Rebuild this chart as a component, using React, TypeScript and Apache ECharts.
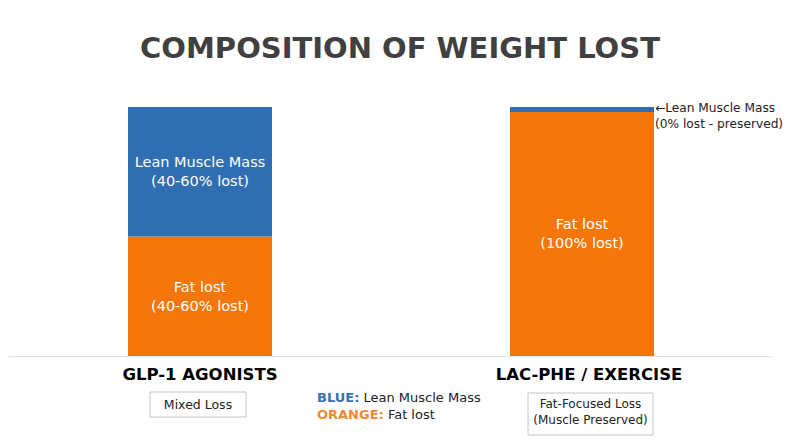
import React, { useEffect, useRef } from "react";
import * as echarts from "echarts";

const categories = ["GLP-1 AGONISTS", "LAC-PHE / EXERCISE"];
const fatLost = [48, 98];
const leanLost = [52, 2];
const fatLabels = ["Fat lost\n(40-60% lost)", "Fat lost\n(100% lost)"];
const leanLabels = ["Lean Muscle Mass\n(40-60% lost)", "←Lean Muscle Mass\n(0% lost - preserved)"];
const subtitles = ["Mixed Loss", "Fat-Focused Loss\n(Muscle Preserved)"];
const legendItems = [
  { key: "BLUE:", text: "Lean Muscle Mass" },
  { key: "ORANGE:", text: "Fat lost" },
];

const FONT = "'DejaVu Sans', sans-serif";
const BLUE = "#306eb2";
const ORANGE = "#f5760a";

export default function App() {
  const ref = useRef<HTMLDivElement>(null);
  useEffect(() => {
    document.body.style.margin = "0";
    const chart = echarts.init(ref.current!, null, { renderer: "svg" });
    chart.setOption({
      animation: false,
      backgroundColor: "#ffffff",
      title: {
        text: "COMPOSITION OF WEIGHT LOST",
        left: "center",
        top: 28,
        textStyle: { fontFamily: FONT, fontSize: 29, fontWeight: "bold", color: "#404040" },
      },
      grid: { left: 9, right: 27, top: 107, bottom: 91 },
      xAxis: {
        type: "category",
        data: categories,
        axisLine: { lineStyle: { color: "#e4e4e4", width: 1 } },
        axisTick: { show: false },
        axisLabel: {
          margin: 10,
          formatter: (v: string, i: number) => (i === 0 ? `{a|${v}}` : `{b|${v}}`),
          rich: {
            a: { fontFamily: FONT, fontSize: 16.5, fontWeight: "bold", color: "#000" },
            b: { fontFamily: FONT, fontSize: 16.5, fontWeight: "bold", color: "#000", padding: [0, 0, 0, 14] },
          },
        },
      },
      yAxis: { type: "value", min: 0, max: 100, show: false, splitLine: { show: false } },
      series: [
        {
          name: "Fat lost",
          type: "bar",
          stack: "total",
          barWidth: 144,
          itemStyle: { color: ORANGE },
          data: fatLost.map((v) => ({ value: v })),
          label: {
            show: true,
            position: "inside",
            formatter: (p: any) => fatLabels[p.dataIndex],
            fontFamily: FONT,
            fontSize: 14.5,
            lineHeight: 19,
            color: "#fff",
          },
        },
        {
          name: "Lean Muscle Mass",
          type: "bar",
          stack: "total",
          barWidth: 144,
          itemStyle: { color: BLUE },
          data: leanLost.map((v, i) =>
            i === 0
              ? {
                  value: v,
                  label: {
                    show: true,
                    position: "inside",
                    fontFamily: FONT,
                    fontSize: 14.5,
                    lineHeight: 19,
                    color: "#fff",
                  },
                }
              : {
                  value: v,
                  label: {
                    show: true,
                    position: "right",
                    distance: 1,
                    offset: [0, 7],
                    fontFamily: FONT,
                    fontSize: 12.2,
                    lineHeight: 16,
                    color: "#222",
                  },
                }
          ),
          label: {
            formatter: (p: any) => leanLabels[p.dataIndex],
          },
        },
      ],
      graphic: [
        {
          type: "rect",
          shape: { x: 150, y: 392, width: 96, height: 25 },
          style: { fill: "#fff", stroke: "#c4c4c4", lineWidth: 1 },
        },
        {
          type: "text",
          x: 198,
          y: 404.5,
          style: {
            text: subtitles[0],
            fontFamily: FONT,
            fontSize: 12.5,
            fill: "#222",
            align: "center",
            verticalAlign: "middle",
          },
        },
        {
          type: "rect",
          shape: { x: 528, y: 393, width: 125, height: 42 },
          style: { fill: "#fff", stroke: "#c4c4c4", lineWidth: 1 },
        },
        {
          type: "text",
          x: 590.5,
          y: 412,
          style: {
            text: subtitles[1],
            fontFamily: FONT,
            fontSize: 12,
            lineHeight: 16,
            fill: "#222",
            align: "center",
            verticalAlign: "middle",
          },
        },
        ...legendItems.map((it, i) => ({
          type: "text",
          x: 317,
          y: 397 + i * 17.5,
          style: {
            text: `{k${i}|${it.key}}{t| ${it.text}}`,
            verticalAlign: "middle",
            align: "left",
            rich: {
              k0: { fontFamily: FONT, fontSize: 13, fontWeight: "bold", fill: "#3a6fb0" },
              k1: { fontFamily: FONT, fontSize: 13, fontWeight: "bold", fill: "#ee8a33" },
              t: { fontFamily: FONT, fontSize: 13, fill: "#222" },
            },
          },
        })),
      ],
    });
    return () => chart.dispose();
  }, []);
  return <div ref={ref} style={{ position: "absolute", left: 0, top: 0, width: 800, height: 447 }} />;
}
